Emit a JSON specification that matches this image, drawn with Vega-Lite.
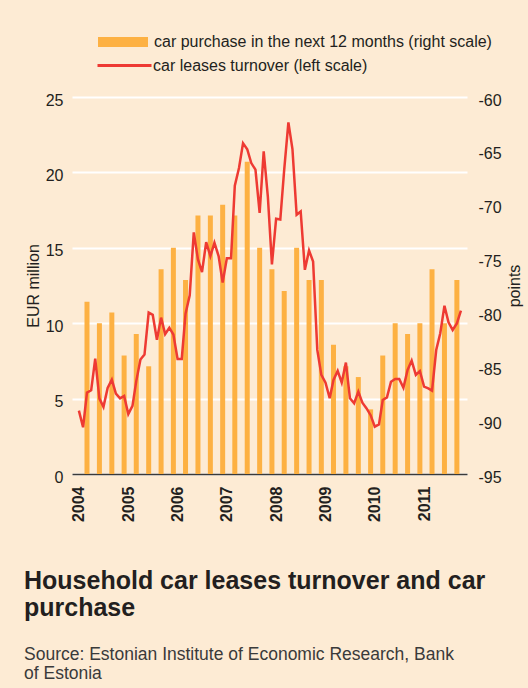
{
  "$schema": "https://vega.github.io/schema/vega-lite/v6.json",
  "width": 395,
  "height": 377,
  "autosize": {"type": "none"},
  "padding": {"left": 72, "top": 97, "right": 61, "bottom": 214},
  "background": "#FDEBD4",
  "config": {
    "view": {"stroke": null},
    "font": "Liberation Sans",
    "axis": {"labelFont": "Liberation Sans", "titleFont": "Liberation Sans", "labelColor": "#231f20", "titleColor": "#231f20"}
  },
  "title": {
    "text": ["Household car leases turnover and car", "purchase"],
    "subtitle": ["Source: Estonian Institute of Economic Research, Bank", "of Estonia"],
    "orient": "bottom",
    "anchor": "start",
    "frame": "group",
    "dx": -48,
    "offset": 47,
    "font": "Liberation Sans",
    "fontSize": 25,
    "fontWeight": "bold",
    "lineHeight": 27,
    "color": "#231f20",
    "subtitleFont": "Liberation Sans",
    "subtitleFontSize": 17.5,
    "subtitleLineHeight": 19,
    "subtitleColor": "#3a3a3a",
    "subtitlePadding": 25
  },
  "datasets": {
    "bars": [
      {"date": "2004-03-01", "value": -79, "series": "car purchase in the next 12 months (right scale)"},
      {"date": "2004-06-01", "value": -81, "series": "car purchase in the next 12 months (right scale)"},
      {"date": "2004-09-01", "value": -80, "series": "car purchase in the next 12 months (right scale)"},
      {"date": "2004-12-01", "value": -84, "series": "car purchase in the next 12 months (right scale)"},
      {"date": "2005-03-01", "value": -82, "series": "car purchase in the next 12 months (right scale)"},
      {"date": "2005-06-01", "value": -85, "series": "car purchase in the next 12 months (right scale)"},
      {"date": "2005-09-01", "value": -76, "series": "car purchase in the next 12 months (right scale)"},
      {"date": "2005-12-01", "value": -74, "series": "car purchase in the next 12 months (right scale)"},
      {"date": "2006-03-01", "value": -77, "series": "car purchase in the next 12 months (right scale)"},
      {"date": "2006-06-01", "value": -71, "series": "car purchase in the next 12 months (right scale)"},
      {"date": "2006-09-01", "value": -71, "series": "car purchase in the next 12 months (right scale)"},
      {"date": "2006-12-01", "value": -70, "series": "car purchase in the next 12 months (right scale)"},
      {"date": "2007-03-01", "value": -71, "series": "car purchase in the next 12 months (right scale)"},
      {"date": "2007-06-01", "value": -66, "series": "car purchase in the next 12 months (right scale)"},
      {"date": "2007-09-01", "value": -74, "series": "car purchase in the next 12 months (right scale)"},
      {"date": "2007-12-01", "value": -76, "series": "car purchase in the next 12 months (right scale)"},
      {"date": "2008-03-01", "value": -78, "series": "car purchase in the next 12 months (right scale)"},
      {"date": "2008-06-01", "value": -74, "series": "car purchase in the next 12 months (right scale)"},
      {"date": "2008-09-01", "value": -77, "series": "car purchase in the next 12 months (right scale)"},
      {"date": "2008-12-01", "value": -77, "series": "car purchase in the next 12 months (right scale)"},
      {"date": "2009-03-01", "value": -83, "series": "car purchase in the next 12 months (right scale)"},
      {"date": "2009-06-01", "value": -85, "series": "car purchase in the next 12 months (right scale)"},
      {"date": "2009-09-01", "value": -86, "series": "car purchase in the next 12 months (right scale)"},
      {"date": "2009-12-01", "value": -89, "series": "car purchase in the next 12 months (right scale)"},
      {"date": "2010-03-01", "value": -84, "series": "car purchase in the next 12 months (right scale)"},
      {"date": "2010-06-01", "value": -81, "series": "car purchase in the next 12 months (right scale)"},
      {"date": "2010-09-01", "value": -82, "series": "car purchase in the next 12 months (right scale)"},
      {"date": "2010-12-01", "value": -81, "series": "car purchase in the next 12 months (right scale)"},
      {"date": "2011-03-01", "value": -76, "series": "car purchase in the next 12 months (right scale)"},
      {"date": "2011-06-01", "value": -81, "series": "car purchase in the next 12 months (right scale)"},
      {"date": "2011-09-01", "value": -77, "series": "car purchase in the next 12 months (right scale)"}
    ],
    "line": [
      {"date": "2004-01-01", "value": 4.2}, {"date": "2004-02-01", "value": 3.1}, {"date": "2004-03-01", "value": 5.4}, {"date": "2004-04-01", "value": 5.55},
      {"date": "2004-05-01", "value": 7.65}, {"date": "2004-06-01", "value": 5.0}, {"date": "2004-07-01", "value": 4.45}, {"date": "2004-08-01", "value": 5.7},
      {"date": "2004-09-01", "value": 6.25}, {"date": "2004-10-01", "value": 5.33}, {"date": "2004-11-01", "value": 5.02}, {"date": "2004-12-01", "value": 5.18},
      {"date": "2005-01-01", "value": 3.97}, {"date": "2005-02-01", "value": 4.52}, {"date": "2005-03-01", "value": 6.16}, {"date": "2005-04-01", "value": 7.59},
      {"date": "2005-05-01", "value": 7.92}, {"date": "2005-06-01", "value": 10.7}, {"date": "2005-07-01", "value": 10.55}, {"date": "2005-08-01", "value": 8.9},
      {"date": "2005-09-01", "value": 10.37}, {"date": "2005-10-01", "value": 9.28}, {"date": "2005-11-01", "value": 9.7}, {"date": "2005-12-01", "value": 9.25},
      {"date": "2006-01-01", "value": 7.63}, {"date": "2006-02-01", "value": 7.63}, {"date": "2006-03-01", "value": 10.63}, {"date": "2006-04-01", "value": 11.85},
      {"date": "2006-05-01", "value": 16.02}, {"date": "2006-06-01", "value": 14.23}, {"date": "2006-07-01", "value": 13.39}, {"date": "2006-08-01", "value": 15.37},
      {"date": "2006-09-01", "value": 14.45}, {"date": "2006-10-01", "value": 15.33}, {"date": "2006-11-01", "value": 14.45}, {"date": "2006-12-01", "value": 12.69},
      {"date": "2007-01-01", "value": 14.3}, {"date": "2007-02-01", "value": 14.3}, {"date": "2007-03-01", "value": 19.12}, {"date": "2007-04-01", "value": 20.29},
      {"date": "2007-05-01", "value": 21.94}, {"date": "2007-06-01", "value": 21.54}, {"date": "2007-07-01", "value": 20.62}, {"date": "2007-08-01", "value": 20.18},
      {"date": "2007-09-01", "value": 17.31}, {"date": "2007-10-01", "value": 21.39}, {"date": "2007-11-01", "value": 18.37}, {"date": "2007-12-01", "value": 13.9},
      {"date": "2008-01-01", "value": 16.92}, {"date": "2008-02-01", "value": 16.87}, {"date": "2008-03-01", "value": 20.18}, {"date": "2008-04-01", "value": 23.32},
      {"date": "2008-05-01", "value": 21.55}, {"date": "2008-06-01", "value": 17.19}, {"date": "2008-07-01", "value": 17.41}, {"date": "2008-08-01", "value": 13.54},
      {"date": "2008-09-01", "value": 14.82}, {"date": "2008-10-01", "value": 14.09}, {"date": "2008-11-01", "value": 8.23}, {"date": "2008-12-01", "value": 6.57},
      {"date": "2009-01-01", "value": 6.06}, {"date": "2009-02-01", "value": 5.02}, {"date": "2009-03-01", "value": 6.24}, {"date": "2009-04-01", "value": 6.84},
      {"date": "2009-05-01", "value": 6.06}, {"date": "2009-06-01", "value": 7.39}, {"date": "2009-07-01", "value": 5.02}, {"date": "2009-08-01", "value": 4.69},
      {"date": "2009-09-01", "value": 5.46}, {"date": "2009-10-01", "value": 4.73}, {"date": "2009-11-01", "value": 4.35}, {"date": "2009-12-01", "value": 3.9},
      {"date": "2010-01-01", "value": 3.14}, {"date": "2010-02-01", "value": 3.29}, {"date": "2010-03-01", "value": 4.91}, {"date": "2010-04-01", "value": 5.08},
      {"date": "2010-05-01", "value": 6.12}, {"date": "2010-06-01", "value": 6.3}, {"date": "2010-07-01", "value": 6.3}, {"date": "2010-08-01", "value": 5.72},
      {"date": "2010-09-01", "value": 6.9}, {"date": "2010-10-01", "value": 7.52}, {"date": "2010-11-01", "value": 6.57}, {"date": "2010-12-01", "value": 6.83},
      {"date": "2011-01-01", "value": 5.79}, {"date": "2011-02-01", "value": 5.68}, {"date": "2011-03-01", "value": 5.53}, {"date": "2011-04-01", "value": 8.22},
      {"date": "2011-05-01", "value": 9.33}, {"date": "2011-06-01", "value": 11.16}, {"date": "2011-07-01", "value": 10.06}, {"date": "2011-08-01", "value": 9.55},
      {"date": "2011-09-01", "value": 9.99}, {"date": "2011-10-01", "value": 10.83}
    ]
  },
  "layer": [
    {
      "data": {"name": "bars"},
      "mark": {"type": "bar", "size": 5},
      "encoding": {
        "x": {
          "field": "date", "type": "temporal",
          "scale": {"type": "utc", "domain": [{"year": 2003, "month": 12, "date": 18, "utc": true}, {"year": 2011, "month": 10, "date": 9, "utc": true}]},
          "axis": {
            "title": null, "format": "%Y", "formatType": "utc",
            "tickCount": {"interval": "year", "step": 1},
            "ticks": false, "grid": false,
            "domain": true, "domainColor": "#3a3a3a", "domainWidth": 1.5,
            "labelAngle": 270, "labelFontSize": 16, "labelFontWeight": "bold",
            "labelPadding": 12, "labelColor": "#231f20"
          }
        },
        "y": {
          "field": "value", "type": "quantitative",
          "scale": {"domain": [-95, -60], "zero": false, "nice": false},
          "axis": {
            "orient": "right", "title": "points", "titleAngle": 270, "titleFontSize": 16, "titleFontWeight": "normal",
            "titlePadding": 21, "values": [-95, -90, -85, -80, -75, -70, -65, -60],
            "labelExpr": "replace(datum.label, '\u2212', '-')",
            "grid": false, "ticks": false, "domain": false,
            "labelFontSize": 16, "labelPadding": 11, "labelOffset": 3
          }
        },
        "y2": {"datum": -95},
        "fill": {
          "field": "series", "type": "nominal",
          "scale": {"range": ["#FDB143"]},
          "legend": {
            "orient": "none", "legendX": 26, "legendY": -80, "title": null, "padding": 0,
            "symbolType": "M-1,-0.2H1V0.2H-1Z", "symbolSize": 2500, "symbolStrokeWidth": 0,
            "labelFont": "Liberation Sans", "labelFontSize": 16, "labelColor": "#231f20", "labelOffset": 6, "labelLimit": 500
          }
        }
      }
    },
    {
      "data": {"name": "line"},
      "mark": {"type": "line", "strokeWidth": 2.5},
      "encoding": {
        "x": {
          "field": "date", "type": "temporal",
          "scale": {"type": "utc", "domain": [{"year": 2003, "month": 12, "date": 18, "utc": true}, {"year": 2011, "month": 10, "date": 9, "utc": true}]},
          "axis": {
            "title": null, "format": "%Y", "formatType": "utc",
            "tickCount": {"interval": "year", "step": 1},
            "ticks": false, "grid": false,
            "domain": true, "domainColor": "#3a3a3a", "domainWidth": 1.5,
            "labelAngle": 270, "labelFontSize": 16, "labelFontWeight": "bold",
            "labelPadding": 12, "labelColor": "#231f20"
          }
        },
        "y": {
          "field": "value", "type": "quantitative",
          "scale": {"domain": [0, 25], "nice": false},
          "axis": {
            "orient": "left", "title": "EUR million", "titleFontSize": 16, "titleFontWeight": "normal",
            "titlePadding": 4, "values": [0, 5, 10, 15, 20, 25],
            "grid": true, "gridColor": "#ffffff", "gridWidth": 2, "gridOpacity": 1,
            "ticks": false, "domain": false,
            "labelFontSize": 16, "labelPadding": 9, "labelOffset": 3
          }
        },
        "stroke": {
          "datum": "car leases turnover (left scale)", "type": "nominal",
          "scale": {"range": ["#EE3A33"]},
          "legend": {
            "orient": "none", "legendX": 24, "legendY": -60, "title": null, "padding": 0,
            "symbolType": "stroke", "symbolSize": 2916, "symbolStrokeWidth": 3,
            "labelFont": "Liberation Sans", "labelFontSize": 16, "labelColor": "#231f20", "labelOffset": 0, "labelLimit": 500
          }
        }
      }
    }
  ],
  "resolve": {"scale": {"y": "independent"}}
}
